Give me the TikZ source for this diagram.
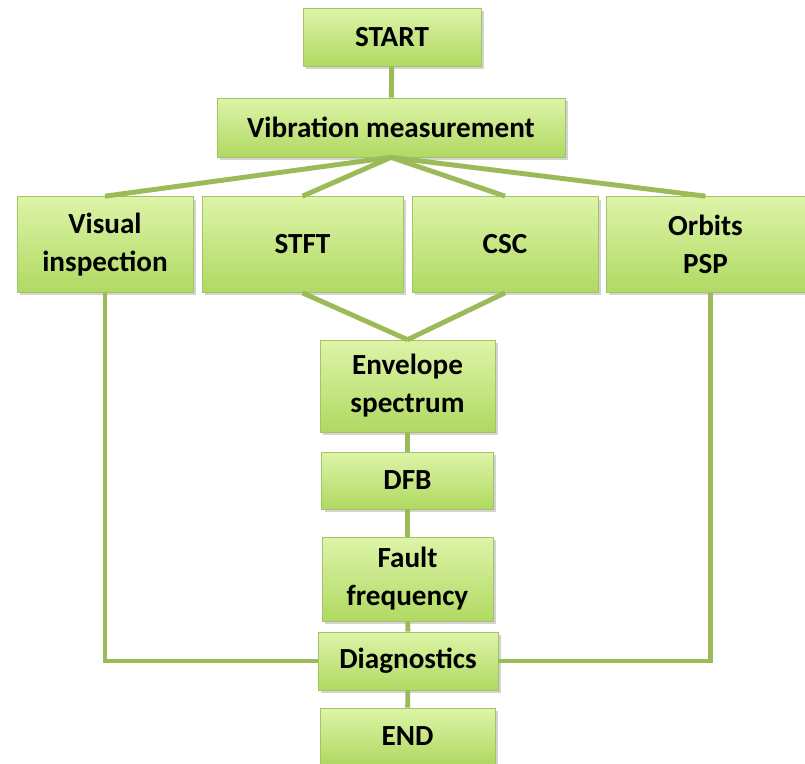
\documentclass[tikz,border=0pt]{standalone}
\usepackage{fontspec}
\setmainfont{Carlito}
\usepackage{tikz}
\usetikzlibrary{shadows}
\usepackage{xcolor}
\definecolor{boxtop}{HTML}{DDF4A8}
\definecolor{boxbot}{HTML}{B0D962}
\definecolor{boxrim}{HTML}{A2C468}
\definecolor{linkgreen}{HTML}{9BBB59}

\begin{document}
\begin{tikzpicture}[x=0.02cm,y=-0.02cm,
  box/.style={draw=boxrim, thin, top color=boxtop, bottom color=boxbot,
    drop shadow={opacity=0.35, shadow xshift=0.06cm, shadow yshift=-0.06cm},
    align=center, inner sep=0pt,
    font=\fontsize{16.6}{21.6}\selectfont\bfseries},
  link/.style={draw=linkgreen, line width=2.8pt}]
\useasboundingbox (0,0) rectangle (805,764);
\node [box, minimum width=3.56cm, minimum height=1.16cm] (start) at (392,37) {START};
\node [box, minimum width=6.96cm, minimum height=1.18cm] (vib) at (391,127.5) {Vibration measurement};
\node [box, minimum width=3.52cm, minimum height=1.92cm] (vis) at (105,244.5) {Visual\\inspection};
\node [box, minimum width=4.02cm, minimum height=1.92cm] (stft) at (302.5,244.5) {STFT};
\node [box, minimum width=3.72cm, minimum height=1.92cm] (csc) at (505,244.5) {CSC};
\node [box, minimum width=3.98cm, minimum height=1.92cm] (orb) at (705.5,244.5) {Orbits\\PSP};
\node [box, minimum width=3.5cm, minimum height=1.84cm] (env) at (407.5,386) {Envelope\\spectrum};
\node [box, minimum width=3.44cm, minimum height=1.14cm] (dfb) at (407.5,480.5) {DFB};
\node [box, minimum width=3.42cm, minimum height=1.68cm] (fault) at (407.5,579) {Fault\\frequency};
\node [box, minimum width=3.6cm, minimum height=1.16cm] (diag) at (408,661) {Diagnostics};
\node [box, minimum width=3.5cm, minimum height=1.12cm] (end) at (407.5,736) {END};
% links
\draw [link] (start) -- (vib);
\draw [link] (vib.south) -- (vis.north);
\draw [link] (vib.south) -- (stft.north);
\draw [link] (vib.south) -- (csc.north);
\draw [link] (vib.south) -- (orb.north);
\draw [link] (stft.south) -- (env.north);
\draw [link] (csc.south) -- (env.north);
\draw [link] (env) -- (dfb);
\draw [link] (dfb) -- (fault);
\draw [link] (fault) -- (diag);
\draw [link] (diag) -- (end);
\draw [link] (vis.south) |- (diag.west);
\draw [link] ([xshift=0.1cm]orb.south) |- (diag.east);
\end{tikzpicture}
\end{document}
